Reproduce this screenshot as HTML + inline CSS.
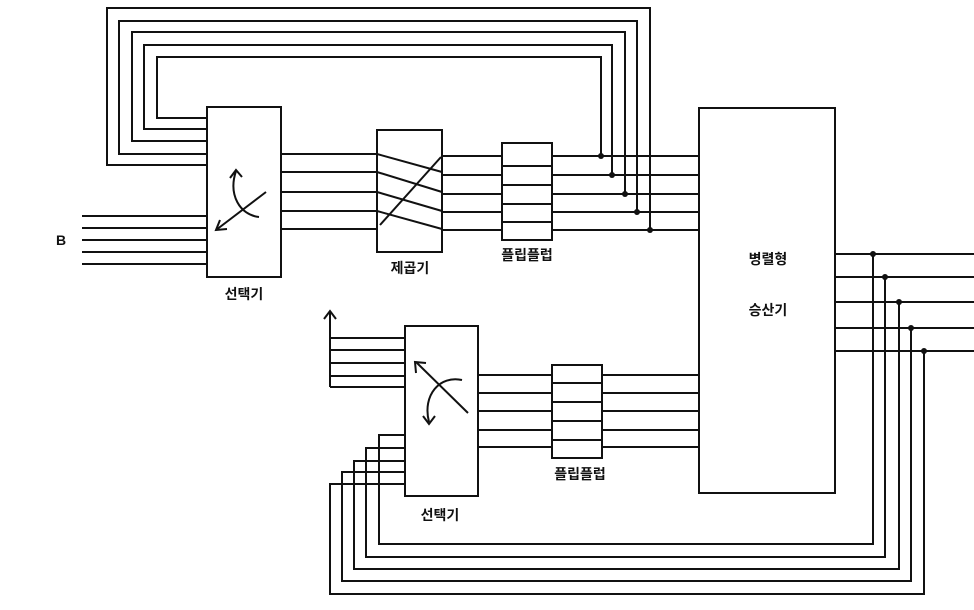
<!DOCTYPE html>
<html><head><meta charset="utf-8"><style>
body{margin:0;background:#fff}
svg{display:block}
text{font-family:"Liberation Sans","Noto Sans CJK KR",sans-serif;font-size:14px;font-weight:bold;fill:#111}
</style></head><body>
<svg width="974" height="610" viewBox="0 0 974 610" xmlns="http://www.w3.org/2000/svg">
<g stroke="#111" stroke-width="2" fill="none">
<!-- top feedback loops -->
<polyline points="601,156 601,57 157,57 157,118 207,118"/>
<polyline points="612,175 612,45 144,45 144,129 207,129"/>
<polyline points="625,194 625,32 132,32 132,141 207,141"/>
<polyline points="637,212 637,21 119,21 119,154 207,154"/>
<polyline points="650,230 650,8 107,8 107,165 207,165"/>
<!-- B inputs -->
<line x1="82" y1="216" x2="207" y2="216"/><line x1="82" y1="228" x2="207" y2="228"/>
<line x1="82" y1="240" x2="207" y2="240"/><line x1="82" y1="252" x2="207" y2="252"/>
<line x1="82" y1="264" x2="207" y2="264"/>
<!-- top selector -->
<rect x="207" y="107" width="74" height="170" fill="#fff"/>
<line x1="281" y1="154" x2="377" y2="154"/><line x1="281" y1="172" x2="377" y2="172"/>
<line x1="281" y1="192" x2="377" y2="192"/><line x1="281" y1="211" x2="377" y2="211"/>
<line x1="281" y1="229" x2="377" y2="229"/>
<line x1="266" y1="192" x2="216" y2="230"/>
<polyline points="220,220 216,230 227,229"/>
<path d="M259,217 C240,215 228,195 236,171"/>
<polyline points="230,178 236,170 242,177"/>
<!-- multiplier -->
<rect x="377" y="130" width="65" height="122" fill="#fff"/>
<line x1="377" y1="154" x2="442" y2="172"/><line x1="377" y1="172" x2="442" y2="192"/>
<line x1="377" y1="192" x2="442" y2="211"/><line x1="377" y1="211" x2="442" y2="229"/>
<line x1="380" y1="225" x2="441" y2="157"/>
<line x1="442" y1="156" x2="502" y2="156"/><line x1="442" y1="175" x2="502" y2="175"/>
<line x1="442" y1="194" x2="502" y2="194"/><line x1="442" y1="212" x2="502" y2="212"/>
<line x1="442" y1="230" x2="502" y2="230"/>
<!-- top FF -->
<rect x="502" y="143" width="50" height="97" fill="#fff"/>
<line x1="502" y1="166" x2="552" y2="166"/><line x1="502" y1="185" x2="552" y2="185"/>
<line x1="502" y1="204" x2="552" y2="204"/><line x1="502" y1="222" x2="552" y2="222"/>
<line x1="552" y1="156" x2="699" y2="156"/><line x1="552" y1="175" x2="699" y2="175"/>
<line x1="552" y1="194" x2="699" y2="194"/><line x1="552" y1="212" x2="699" y2="212"/>
<line x1="552" y1="230" x2="699" y2="230"/>
<!-- big box -->
<rect x="699" y="108" width="136" height="385"/>
<!-- outputs right -->
<line x1="835" y1="254" x2="974" y2="254"/><line x1="835" y1="277" x2="974" y2="277"/>
<line x1="835" y1="302" x2="974" y2="302"/><line x1="835" y1="328" x2="974" y2="328"/>
<line x1="835" y1="351" x2="974" y2="351"/>
<!-- bottom loops -->
<polyline points="873,254 873,544 379,544 379,435 405,435"/>
<polyline points="885,277 885,557 366,557 366,448 405,448"/>
<polyline points="899,302 899,569 354,569 354,461 405,461"/>
<polyline points="911,328 911,581 342,581 342,472 405,472"/>
<polyline points="924,351 924,594 330,594 330,484 405,484"/>
<!-- bottom selector -->
<rect x="405" y="326" width="73" height="170" fill="#fff"/>
<line x1="330" y1="338" x2="405" y2="338"/><line x1="330" y1="350" x2="405" y2="350"/>
<line x1="330" y1="363" x2="405" y2="363"/><line x1="330" y1="376" x2="405" y2="376"/>
<line x1="330" y1="387" x2="405" y2="387"/>
<line x1="330" y1="387" x2="330" y2="312"/>
<polyline points="324,319 330,311 336,319"/>
<line x1="468" y1="413" x2="416" y2="362"/>
<polyline points="416,373 415,362 426,363"/>
<path d="M462,380 C440,375 422,395 429,422"/>
<polyline points="423,416 429,424 435,416"/>
<line x1="478" y1="375" x2="552" y2="375"/><line x1="478" y1="393" x2="552" y2="393"/>
<line x1="478" y1="411" x2="552" y2="411"/><line x1="478" y1="430" x2="552" y2="430"/>
<line x1="478" y1="447" x2="552" y2="447"/>
<!-- bottom FF -->
<rect x="552" y="365" width="50" height="93" fill="#fff"/>
<line x1="552" y1="383" x2="602" y2="383"/><line x1="552" y1="402" x2="602" y2="402"/>
<line x1="552" y1="421" x2="602" y2="421"/><line x1="552" y1="440" x2="602" y2="440"/>
<line x1="602" y1="375" x2="699" y2="375"/><line x1="602" y1="393" x2="699" y2="393"/>
<line x1="602" y1="411" x2="699" y2="411"/><line x1="602" y1="430" x2="699" y2="430"/>
<line x1="602" y1="447" x2="699" y2="447"/>
</g>
<g fill="#111">
<circle cx="601" cy="156" r="3"/><circle cx="612" cy="175" r="3"/><circle cx="625" cy="194" r="3"/>
<circle cx="637" cy="212" r="3"/><circle cx="650" cy="230" r="3"/>
<circle cx="873" cy="254" r="3"/><circle cx="885" cy="277" r="3"/><circle cx="899" cy="302" r="3"/>
<circle cx="911" cy="328" r="3"/><circle cx="924" cy="351" r="3"/>
</g>
<text x="56" y="245">B</text>
<text x="244" y="299" text-anchor="middle">선택기</text>
<text x="410" y="273" text-anchor="middle">제곱기</text>
<text x="527" y="260" text-anchor="middle">플립플럽</text>
<text x="768" y="264" text-anchor="middle">병렬형</text>
<text x="768" y="315" text-anchor="middle">승산기</text>
<text x="580" y="479" text-anchor="middle">플립플럽</text>
<text x="440" y="520" text-anchor="middle">선택기</text>
</svg>
</body></html>
